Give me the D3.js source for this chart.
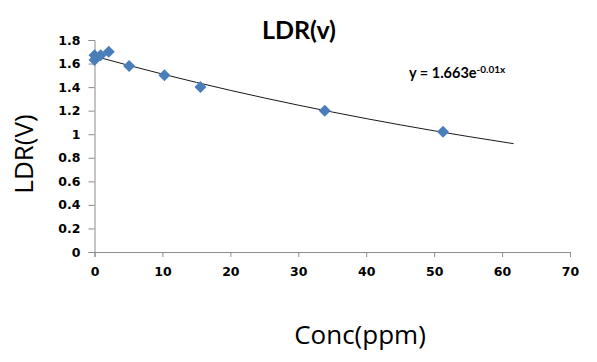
<!DOCTYPE html>
<html><head><meta charset="utf-8">
<script src="https://cdn.jsdelivr.net/npm/d3@7"></script>
<style>
body{margin:0;background:#fff;}
svg{display:block;}
</style></head>
<body>
<svg id="chart" width="597" height="362"></svg>
<script>
// Data
const concX = [0, 0, 0.9, 2.1, 5.1, 10.3, 15.6, 33.9, 51.3];
const ldrY  = [1.63, 1.67, 1.67, 1.70, 1.58, 1.50, 1.40, 1.20, 1.02];
const xTicks = [0, 10, 20, 30, 40, 50, 60, 70];
const yTicks = [0, 0.2, 0.4, 0.6, 0.8, 1, 1.2, 1.4, 1.6, 1.8];
const trendA = 1.663;      // fitted coefficient
const trendB = -0.0096;    // fitted exponent (label shows -0.01)
const trendXs = [0, 5, 10, 15, 20, 25, 30, 35, 40, 45, 50, 55, 61.7];

const svg = d3.select("#chart");
const x = d3.scaleLinear().domain([0, 70]).range([94.5, 570]);
const y = d3.scaleLinear().domain([0, 1.8]).range([252, 40]);

const axisCol = "#8c8c8c";
const tickFont = "'DejaVu Sans', sans-serif";
const titleFont = "Lato, 'Open Sans', sans-serif";

// X axis
const xAxis = svg.append("g").attr("transform", "translate(0,252)")
  .call(d3.axisBottom(x).tickValues(xTicks).tickSize(5).tickPadding(10).tickFormat(d3.format("d")));
xAxis.select(".domain").attr("stroke", axisCol);
xAxis.selectAll(".tick line").attr("stroke", axisCol);
xAxis.selectAll(".tick text").attr("font-family", tickFont).attr("font-weight", "bold")
  .attr("font-size", 12.5).attr("fill", "#000");

// Y axis
const yAxis = svg.append("g").attr("transform", "translate(94.5,0)")
  .call(d3.axisLeft(y).tickValues(yTicks).tickSize(6).tickPadding(8).tickFormat(d => String(+d.toFixed(1))));
yAxis.select(".domain").attr("stroke", axisCol);
yAxis.selectAll(".tick line").attr("stroke", axisCol);
yAxis.selectAll(".tick text").attr("font-family", tickFont).attr("font-weight", "bold")
  .attr("font-size", 12.5).attr("fill", "#000");

// Trend line
const line = d3.line().x(d => x(d)).y(d => y(trendA * Math.exp(trendB * d))).curve(d3.curveMonotoneX);
svg.append("path").datum(trendXs).attr("d", line)
  .attr("fill", "none").attr("stroke", "#1a1a1a").attr("stroke-width", 1);

// Markers (diamonds)
const pts = concX.map((c, i) => ({x: c, y: ldrY[i]}));
svg.append("g").selectAll("path").data(pts).enter().append("path")
  .attr("transform", d => `translate(${x(d.x)},${y(d.y)})`)
  .attr("d", "M0,-6L6,0L0,6L-6,0Z")
  .attr("fill", "#4a7ebb");

// Title
svg.append("text").attr("x", 299).attr("y", 39).attr("text-anchor", "middle")
  .attr("font-family", titleFont).attr("font-weight", "bold").attr("font-size", 25)
  .text("LDR(v)");

// Y axis title
svg.append("text").attr("transform", "translate(33,154) rotate(-90)").attr("text-anchor", "middle")
  .attr("font-family", "'Open Sans', sans-serif").attr("font-size", 26)
  .text("LDR(V)");

// X axis title
svg.append("text").attr("x", 360).attr("y", 344).attr("text-anchor", "middle")
  .attr("font-family", "'Open Sans', sans-serif").attr("font-size", 26)
  .text("Conc(ppm)");

// Equation
const eq = svg.append("text").attr("x", 409).attr("y", 78)
  .attr("font-family", titleFont).attr("font-weight", "bold").attr("font-size", 14.5);
eq.append("tspan").text("y = " + trendA + "e");
eq.append("tspan").attr("dy", -5).attr("font-size", 10).text("-0.01x");
</script>
</body></html>
